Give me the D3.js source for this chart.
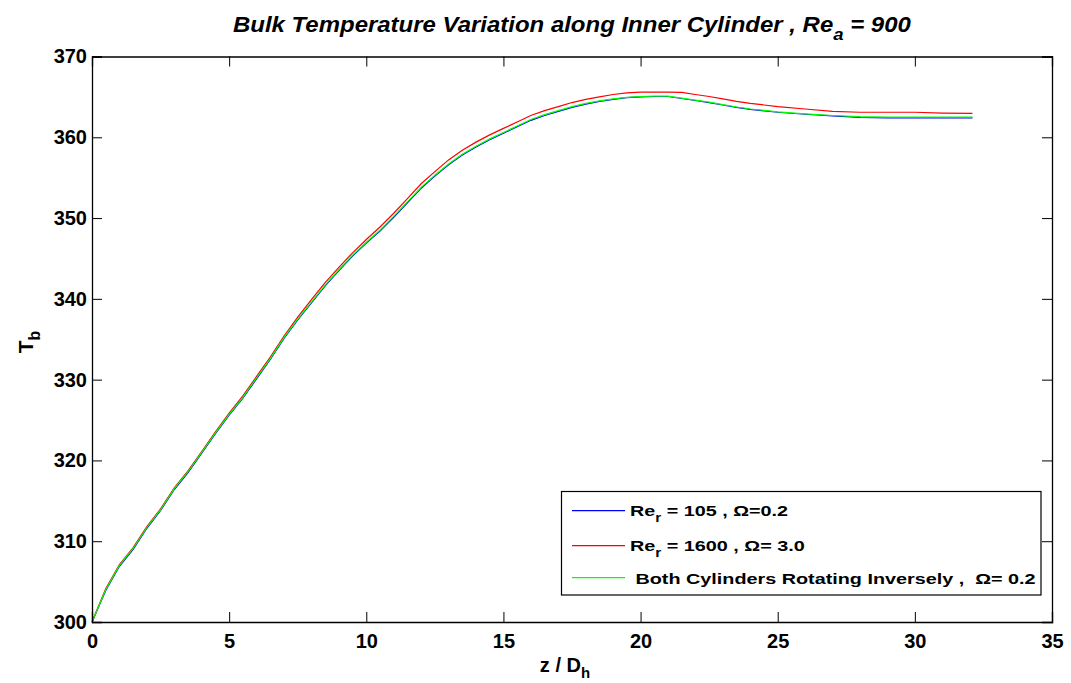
<!DOCTYPE html>
<html><head><meta charset="utf-8">
<script src="https://cdn.jsdelivr.net/npm/d3@7"></script>
<style>body{margin:0;background:#fff}svg{display:block}text{font-family:"Liberation Sans",Arial,sans-serif;font-weight:bold}</style>
</head><body><svg id="c" width="1071" height="683"></svg>
<script>
const zValues = [0,0.5,1,1.5,2,2.5,3,3.5,4,4.5,5,5.5,6,6.5,7,7.5,8,8.5,9,9.5,10,10.5,11,11.5,12,12.5,13,13.5,14,14.5,15,15.5,16,16.5,17,17.5,18,18.5,19,19.5,20,20.5,21,21.5,22,22.5,23,23.5,24,25,26,27,28,29,30,31,32.1];
const tGreen = [300.0,304.0,307.0,309.1,311.7,313.9,316.5,318.6,321.0,323.4,325.7,327.8,330.2,332.6,335.2,337.5,339.6,341.7,343.6,345.4,347.0,348.5,350.2,352.0,353.8,355.3,356.7,357.9,358.9,359.8,360.6,361.4,362.2,362.8,363.3,363.8,364.2,364.5,364.75,364.95,365.05,365.1,365.1,364.85,364.6,364.35,364.05,363.75,363.5,363.15,362.9,362.7,362.55,362.5,362.5,362.5,362.5];
const tBlue = [300.0,303.9,306.9,309.0,311.6,313.8,316.4,318.5,320.9,323.3,325.6,327.7,330.1,332.5,335.1,337.4,339.5,341.6,343.5,345.3,346.9,348.4,350.1,351.9,353.7,355.2,356.6,357.8,358.8,359.7,360.5,361.3,362.1,362.7,363.2,363.7,364.1,364.45,364.7,364.9,365.0,365.05,365.05,364.8,364.55,364.3,364.0,363.7,363.45,363.1,362.85,362.65,362.45,362.4,362.4,362.4,362.4];
const tRed = [300.0,304.1,307.1,309.2,311.8,314.0,316.6,318.7,321.1,323.55,325.85,328.0,330.4,332.8,335.4,337.75,339.9,342.0,343.9,345.7,347.35,348.9,350.6,352.4,354.25,355.75,357.2,358.4,359.4,360.3,361.1,361.9,362.7,363.3,363.8,364.3,364.7,365.0,365.3,365.5,365.6,365.6,365.6,365.55,365.3,365.05,364.75,364.45,364.2,363.8,363.5,363.2,363.1,363.1,363.1,363.0,362.95];
const xTicks = [0,5,10,15,20,25,30,35];
const yTicks = [300,310,320,330,340,350,360,370];
const seriesNames = ["Re_r = 105 , Ω=0.2","Re_r = 1600 , Ω= 3.0"," Both Cylinders Rotating Inversely ,  Ω= 0.2"];
const seriesColors = ["#0000ff","#ff0000","#00ff00"];

const svg = d3.select("#c");
const L=92,R=1052,T=56.5,B=622;
const x = d3.scaleLinear().domain([0,35]).range([L,R]);
const y = d3.scaleLinear().domain([300,370]).range([B,T]);

const line = d3.line().x((d,i)=>x(zValues[i])).y(d=>y(d));
[[tBlue,0],[tRed,1],[tGreen,2]].forEach(([s,k])=>{
  svg.append("path").datum(s).attr("d",line).attr("fill","none")
    .attr("stroke",seriesColors[k]).attr("stroke-width",1.2);
});

// axes
const gx = svg.append("g").attr("transform",`translate(0,${B})`)
  .call(d3.axisBottom(x).tickValues(xTicks).tickSize(-10).tickPadding(12).tickFormat(d3.format("d")));
const gxt = svg.append("g").attr("transform",`translate(0,${T})`)
  .call(d3.axisTop(x).tickValues(xTicks).tickSize(-10).tickFormat(""));
const gy = svg.append("g").attr("transform",`translate(${L},0)`)
  .call(d3.axisLeft(y).tickValues(yTicks).tickSize(-10).tickPadding(5).tickFormat(d3.format("d")));
const gyr = svg.append("g").attr("transform",`translate(${R},0)`)
  .call(d3.axisRight(y).tickValues(yTicks).tickSize(-10).tickFormat(""));
[gx,gxt,gy,gyr].forEach(g=>{
  g.select(".domain").attr("stroke","#000").attr("stroke-width",1.3);
  g.selectAll(".tick line").attr("stroke","#000").attr("stroke-width",1);
  g.selectAll("text").attr("fill","#000").style("font-size","20px").style("font-weight","bold").style("font-family","'Liberation Sans',Arial,sans-serif");
});

function fitWidth(sel, x0, y0, target){
  const w = sel.node().getBBox().width;
  sel.attr("x",0).attr("y",0).attr("transform",`translate(${x0},${y0}) scale(${target/w},1)`);
}

// title
const title = svg.append("text").style("font-size","22px").style("font-style","italic");
title.append("tspan").text("Bulk Temperature Variation along Inner Cylinder , Re");
title.append("tspan").attr("dy",8).style("font-size","17px").text("a");
title.append("tspan").attr("dy",-8).text(" = 900");
fitWidth(title, 233, 32, 679);

// x label
const xl = svg.append("text").attr("x",565).attr("y",672).attr("text-anchor","middle").style("font-size","20px");
xl.append("tspan").text("z / D");
xl.append("tspan").attr("dy",6).style("font-size","15px").text("h");

// y label
const yl = svg.append("text").attr("transform","translate(33,342) rotate(-90)").attr("text-anchor","middle").style("font-size","21px");
yl.append("tspan").text("T");
yl.append("tspan").attr("dy",7).style("font-size","16px").text("b");

// legend
const lg = svg.append("g");
lg.append("rect").attr("x",561.5).attr("y",491.5).attr("width",479.5).attr("height",103.5)
  .attr("fill","#fff").attr("stroke","#000").attr("stroke-width",1.2);
const lineY=[510.7,545.7,577.7], baseY=[515.7,551,584], textW=[158,175,399];
seriesNames.forEach((name,i)=>{
  lg.append("line").attr("x1",572).attr("x2",625).attr("y1",lineY[i]).attr("y2",lineY[i])
    .attr("stroke",seriesColors[i]).attr("stroke-width",1.2);
  const t = lg.append("text").style("font-size","15.5px").attr("xml:space","preserve");
  const parts = name.split("_r");
  if(parts.length>1){
    t.append("tspan").text(parts[0]);
    t.append("tspan").attr("dy",6).style("font-size","12px").text("r");
    t.append("tspan").attr("dy",-6).text(parts[1]);
  } else t.text(name);
  fitWidth(t, 630, baseY[i], textW[i]+ (i===2?7:0));
});
</script></body></html>
